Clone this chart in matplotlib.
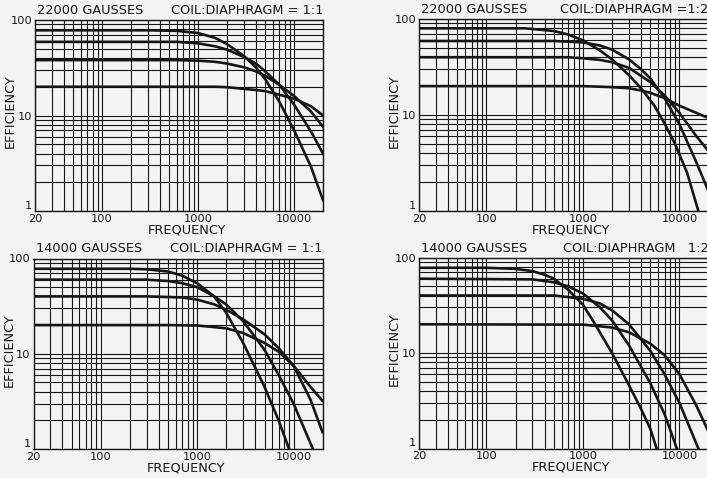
import matplotlib
matplotlib.use('Agg')
from matplotlib import pyplot as plt
from matplotlib.ticker import LogLocator, NullFormatter

# ---- data ----
titles_left = ['22000 GAUSSES', '22000 GAUSSES', '14000 GAUSSES', '14000 GAUSSES']
titles_right = ['COIL:DIAPHRAGM = 1:1', 'COIL:DIAPHRAGM =1:2',
                'COIL:DIAPHRAGM = 1:1', 'COIL:DIAPHRAGM   1:2']

xticks = [20, 100, 1000, 10000]
xtick_labels = ['20', '100', '1000', '10000']
yticks = [1, 10, 100]
ytick_labels = ['1', '10', '100']

# top left: 22000 gausses, 1:1
tl_f80 = [20, 300, 600, 1000, 1500, 2000, 3000, 4000, 5000, 7000, 10000, 15000, 20000]
tl_e80 = [78, 78, 77, 73, 65, 56, 42, 32, 24, 14, 7.0, 2.9, 1.3]
tl_f60 = [20, 300, 600, 1000, 1500, 2000, 3000, 4000, 5000, 7000, 10000, 15000, 20000]
tl_e60 = [59, 59, 59, 57, 53, 49, 41, 35, 29, 21, 13, 6.8, 4.0]
tl_f40 = [20, 300, 600, 1000, 1500, 2000, 3000, 4000, 5000, 7000, 10000, 15000, 20000]
tl_e40 = [38, 38, 38, 37.5, 36.5, 35, 32, 29, 26, 21, 16, 11, 7.6]
tl_f20 = [20, 300, 600, 1000, 1500, 2000, 3000, 4000, 5000, 7000, 10000, 15000, 20000]
tl_e20 = [20, 20, 20, 20, 20, 19.8, 19, 18.5, 18, 16.5, 15, 12.5, 10]

# top right: 22000 gausses, 1:2
tr_f80 = [20, 250, 500, 700, 1000, 1500, 2000, 3000, 4000, 5500, 7000, 9000, 12000, 15700]
tr_e80 = [80, 80, 75, 69, 60, 47, 38, 26, 19, 12.5, 8.2, 5.0, 2.5, 1]
tr_f60 = [20, 500, 1000, 1500, 2000, 3000, 4000, 5000, 7000, 10000, 15000, 20000]
tr_e60 = [59, 59, 57, 53, 48, 38, 30, 24, 15, 8, 3.2, 1.6]
tr_f40 = [20, 700, 1000, 1500, 2000, 3000, 5000, 7000, 10000, 15000, 20000]
tr_e40 = [40, 40, 39, 37.5, 35.5, 31, 22, 16, 10.5, 6, 4.2]
tr_f20 = [20, 1000, 2000, 3000, 4000, 5000, 7000, 10000, 15000, 20000]
tr_e20 = [20, 20, 19.5, 19, 18, 17, 15, 12.5, 10.5, 9.3]

# bottom left: 14000 gausses, 1:1
bl_f80 = [20, 200, 300, 500, 700, 1000, 1500, 2000, 3000, 5000, 7000, 9000]
bl_e80 = [78, 78, 77, 73, 66, 55, 40, 27, 13, 4.5, 2.0, 1.0]
bl_f60 = [20, 300, 500, 700, 1000, 1500, 2000, 3000, 5000, 7000, 10000, 15900]
bl_e60 = [60, 60, 58, 55, 50, 40, 33, 22, 11, 6, 3, 1]
bl_f40 = [20, 300, 700, 1000, 1500, 2000, 3000, 5000, 7000, 10000, 15000, 20000]
bl_e40 = [40, 40, 39, 37, 33, 29, 23, 16, 11.5, 7.5, 3.3, 1.5]
bl_f20 = [20, 500, 1000, 2000, 3000, 5000, 7000, 10000, 15000, 20000]
bl_e20 = [20, 20, 19.8, 18.5, 16.5, 13, 10.5, 7.5, 4.5, 3.2]

# bottom right: 14000 gausses, 1:2
br_f80 = [20, 100, 200, 300, 400, 500, 700, 1000, 1300, 2000, 3000, 4000, 5000, 5800]
br_e80 = [78, 78, 76, 72, 66, 60, 46, 32, 21, 10, 4.6, 2.6, 1.6, 1]
br_f60 = [20, 300, 500, 700, 1000, 1500, 2000, 3000, 5000, 7000, 9400]
br_e60 = [60, 59, 55, 50, 42, 30, 22, 12, 4.8, 2.3, 1]
br_f40 = [20, 500, 1000, 1500, 2000, 3000, 5000, 7000, 10000, 15700]
br_e40 = [40, 40, 37, 33, 28, 20, 10.5, 6, 3, 1]
br_f20 = [20, 1000, 2000, 3000, 5000, 7000, 10000, 15000, 20000]
br_e20 = [20, 19.8, 18.5, 16.5, 12.5, 9.5, 6, 2.8, 1.5]

panels = [
    [(tl_f80, tl_e80), (tl_f60, tl_e60), (tl_f40, tl_e40), (tl_f20, tl_e20)],
    [(tr_f80, tr_e80), (tr_f60, tr_e60), (tr_f40, tr_e40), (tr_f20, tr_e20)],
    [(bl_f80, bl_e80), (bl_f60, bl_e60), (bl_f40, bl_e40), (bl_f20, bl_e20)],
    [(br_f80, br_e80), (br_f60, br_e60), (br_f40, br_e40), (br_f20, br_e20)],
]

# axes boxes in pixels: left, right, top, bottom
W, H = 707, 478
boxes = [(35, 323, 20, 211), (419, 708.5, 19, 211),
         (33.5, 322.5, 258.5, 449), (419, 708.5, 257.5, 448.5)]

bg = '#f3f3f3'
ink = '#161616'
plt.rcParams['font.family'] = ['DejaVu Sans']

fig = plt.figure(figsize=(W / 100, H / 100), dpi=100, facecolor=bg)

for i in range(4):
    l, r, t, b = boxes[i]
    ax = fig.add_axes([l / W, 1 - b / H, (r - l) / W, (b - t) / H])
    ax.set_facecolor(bg)
    ax.set_xscale('log')
    ax.set_yscale('log')
    ax.set_xlim(20, 20000)
    ax.set_ylim(1, 100)

    ax.xaxis.set_minor_locator(LogLocator(base=10, subs=range(2, 10)))
    ax.yaxis.set_minor_locator(LogLocator(base=10, subs=range(2, 10)))
    ax.xaxis.set_minor_formatter(NullFormatter())
    ax.yaxis.set_minor_formatter(NullFormatter())
    ax.set_xticks(xticks)
    ax.set_xticklabels(xtick_labels)
    ax.set_yticks(yticks)
    ax.set_yticklabels(ytick_labels)
    ax.tick_params(which='both', length=0, labelsize=8.2, colors=ink, pad=2)
    # the "1" sits just above the corner, clear of the "20"
    ax.get_yticklabels()[0].set_verticalalignment('bottom')
    ax.grid(True, which='both', color=ink, linewidth=0.8)
    for s in ax.spines.values():
        s.set_color(ink)
        s.set_linewidth(1.0)

    for f, e in panels[i]:
        ax.plot(f, e, color=ink, linewidth=1.9, solid_joinstyle='round')

    pw = r - l
    ph = b - t
    ax.text(2 / pw, 1 + 3 / ph, titles_left[i], transform=ax.transAxes,
            fontsize=9.3, color=ink, ha='left', va='bottom')
    ax.text(1.0, 1 + 3 / ph, titles_right[i], transform=ax.transAxes,
            fontsize=9.3, color=ink, ha='right', va='bottom')
    ax.text(-24.5 / pw, 0.52, 'EFFICIENCY', transform=ax.transAxes, rotation=90,
            fontsize=9.3, color=ink, ha='center', va='center')
    ax.text(152 / pw, -19 / ph, 'FREQUENCY', transform=ax.transAxes,
            fontsize=9.3, color=ink, ha='center', va='center')

plt.savefig('out.png', dpi=100, facecolor=bg)
